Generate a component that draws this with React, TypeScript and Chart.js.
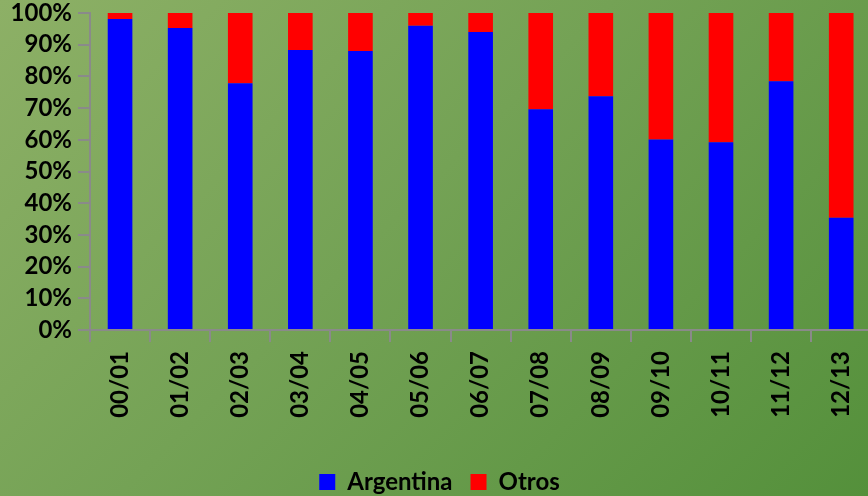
import React, { useEffect, useRef } from "react";
import { Chart, registerables } from "chart.js";

Chart.register(...registerables);

const categories = ["00/01", "01/02", "02/03", "03/04", "04/05", "05/06", "06/07", "07/08", "08/09", "09/10", "10/11", "11/12", "12/13"];
const argentina = [98.1, 95.3, 77.8, 88.3, 88.0, 96.0, 94.0, 69.6, 73.7, 60.1, 59.2, 78.5, 35.4];
const otros = [1.9, 4.7, 22.2, 11.7, 12.0, 4.0, 6.0, 30.4, 26.3, 39.9, 40.8, 21.5, 64.6];
const seriesNames = ["Argentina", "Otros"];

const FONT = "Lato";
const AXIS_GRAY = "#8a8a8a";

export default function App() {
  const ref = useRef<HTMLCanvasElement | null>(null);
  useEffect(() => {
    if (!ref.current) return;
    const chart = new Chart(ref.current, {
      type: "bar",
      data: {
        labels: categories,
        datasets: [
          { label: seriesNames[0], data: argentina, backgroundColor: "#0000ff", borderWidth: 0 },
          { label: seriesNames[1], data: otros, backgroundColor: "#ff0000", borderWidth: 0 },
        ],
      },
      options: {
        responsive: false,
        animation: false,
        layout: { padding: { top: 0, left: 0, right: 0, bottom: 0 } },
        datasets: { bar: { barPercentage: 0.41, categoryPercentage: 1 } },
        plugins: {
          legend: {
            position: "bottom",
            labels: {
              boxWidth: 16,
              boxHeight: 16,
              padding: 18,
              color: "#000",
              font: { family: FONT, size: 24, weight: "bold" },
            },
          },
          tooltip: { enabled: false },
        },
        scales: {
          x: {
            stacked: true,
            afterFit: (s: any) => { s.height = 122; },
            grid: { offset: true, drawOnChartArea: false, drawTicks: true, tickLength: 12, color: AXIS_GRAY, lineWidth: 2 },
            border: { color: AXIS_GRAY, width: 2 },
            ticks: {
              color: "#000",
              minRotation: 90,
              maxRotation: 90,
              padding: 9,
              autoSkip: false,
              font: { family: FONT, size: 24, weight: "bold" },
            },
          },
          y: {
            stacked: true,
            min: 0,
            max: 100,
            afterFit: (s: any) => { s.width = 90; s.paddingTop = 13; },
            grid: { drawOnChartArea: false, drawTicks: true, tickLength: 12, color: AXIS_GRAY, lineWidth: 2 },
            border: { color: AXIS_GRAY, width: 2 },
            ticks: {
              stepSize: 10,
              autoSkip: false,
              color: "#000",
              padding: 6,
              font: { family: FONT, size: 24, weight: "bold" },
              callback: (v: any) => v + "%",
            },
          },
        },
      },
    });
    return () => chart.destroy();
  }, []);
  return (
    <div
      style={{
        position: "fixed",
        left: 0,
        top: 0,
        width: 868,
        height: 496,
        overflow: "hidden",
        background: "linear-gradient(135deg, #8db066 0%, #74a255 45%, #54903b 100%)",
      }}
    >
      <canvas ref={ref} width={879} height={504} style={{ display: "block" }} />
    </div>
  );
}
